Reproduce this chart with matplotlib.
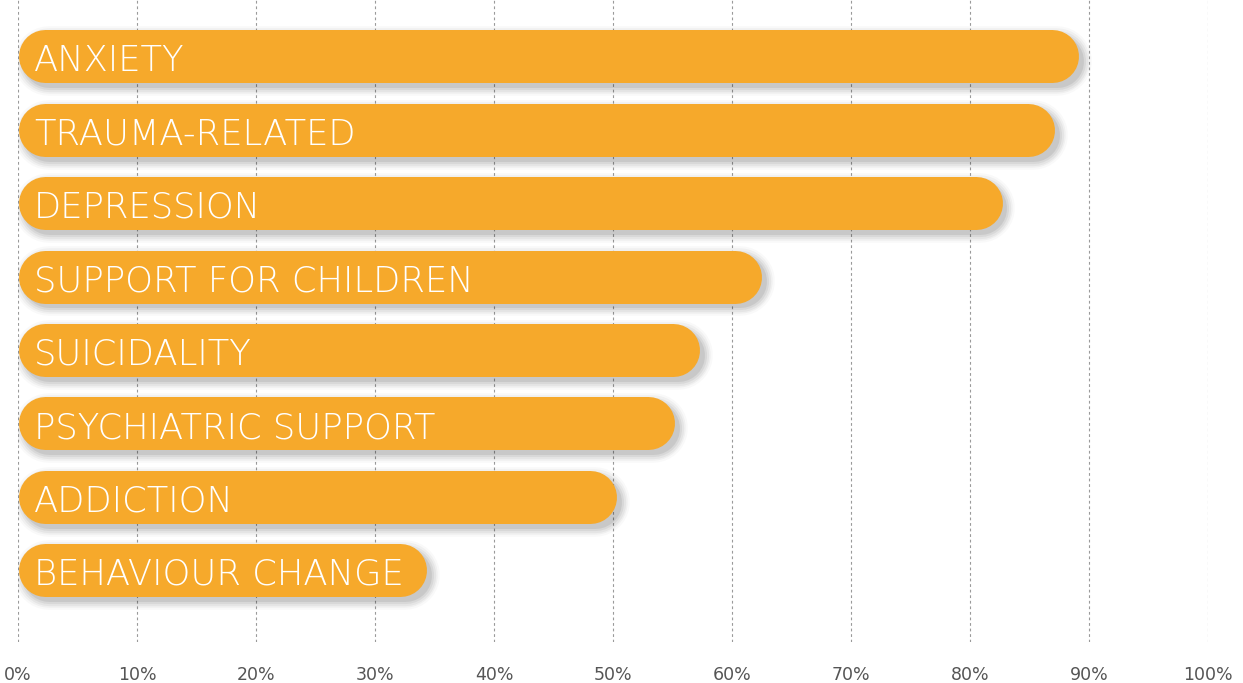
import matplotlib
matplotlib.use("Agg")
import matplotlib.pyplot as plt
import matplotlib.patheffects as pe
from matplotlib.ticker import FuncFormatter

categories = ["ANXIETY", "TRAUMA-RELATED", "DEPRESSION", "SUPPORT FOR CHILDREN",
              "SUICIDALITY", "PSYCHIATRIC SUPPORT", "ADDICTION", "BEHAVIOUR CHANGE"]
shares = [89.1, 87.1, 82.7, 62.5, 57.3, 55.2, 50.3, 34.3]
ticks = list(range(0, 101, 10))

bar_color = "#F6A92B"
DPI = 100
W, H = 1243, 683

plt.rcParams["font.family"] = ["DejaVu Sans"]

fig = plt.figure(figsize=(W / DPI, H / DPI), dpi=DPI)
ax = fig.add_axes([18 / W, 41 / H, 1190 / W, 642 / H])
ax.set_xlim(0, 100)
ax.set_ylim(7.98, -0.77)

# bar thickness in px, converted to points for the round-capped lines
bar_px = 53
lw = bar_px * 72 / DPI
px_per_unit = 1190 / 100
cap = (bar_px / 2) / px_per_unit

# soft shadow: several widening translucent layers offset down-right
shadow = []
for extra, a in [(12, 0.025), (9, 0.035), (6, 0.045), (3, 0.055), (0, 0.07)]:
    shadow.append(pe.SimpleLineShadow(offset=(3.5, -3.5), shadow_color="#000000",
                                      alpha=a, linewidth=lw + extra))
shadow.append(pe.Normal())

for i, (name, v) in enumerate(zip(categories, shares)):
    ax.plot([cap, v - cap], [i, i], color=bar_color, lw=lw,
            solid_capstyle="round", zorder=3, path_effects=shadow)
    ax.annotate(name, xy=(0, i), xytext=(11.5, -10.6), textcoords="offset points",
                color="white", fontsize=25.5, fontweight="light",
                va="baseline", ha="left", zorder=4)

ax.set_xticks(ticks)
ax.xaxis.set_major_formatter(FuncFormatter(lambda x, _: f"{x:.0f}%"))
ax.tick_params(axis="x", length=0, pad=17, labelsize=12.5, labelcolor="#555555")
ax.set_yticks([])
for s in ax.spines.values():
    s.set_visible(False)

ax.grid(axis="x", color="#9a9a9a", lw=0.8, linestyle=(0, (2.5, 2.5)), zorder=0)
ax.set_axisbelow(True)

fig.savefig("out.png", dpi=DPI, facecolor="white")
